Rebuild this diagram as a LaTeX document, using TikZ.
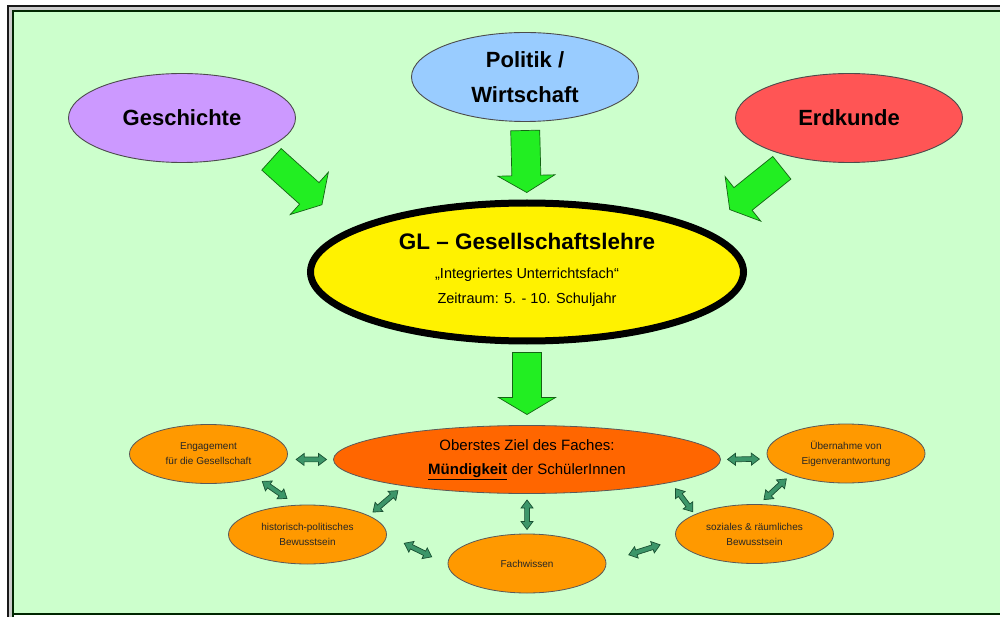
\documentclass[tikz,border=0pt]{standalone}
\usepackage{fontspec}
\setmainfont{Liberation Sans}
\usetikzlibrary{calc,shapes.geometric}

\definecolor{bggreen}{RGB}{204,255,204}
\definecolor{histviolet}{RGB}{204,153,255}
\definecolor{polblue}{RGB}{153,204,255}
\definecolor{erdred}{RGB}{255,85,85}
\definecolor{goalorange}{RGB}{255,102,0}
\definecolor{aimorange}{RGB}{255,153,0}
\definecolor{flowgreen}{RGB}{34,238,34}
\definecolor{flowline}{RGB}{20,100,20}
\definecolor{linkgreen}{RGB}{60,150,105}
\definecolor{linkline}{RGB}{25,80,50}

\tikzset{
  subject/.style={ellipse,draw=black!70,line width=0.9pt,inner sep=0pt,outer sep=0pt,
    minimum width=227pt,minimum height=89pt,align=center,
    font=\fontsize{22}{35}\selectfont\bfseries},
  core/.style={ellipse,draw=black,line width=7pt,fill=yellow,inner sep=0pt,outer sep=0pt,
    minimum width=433pt,minimum height=138pt,align=center,
    font=\fontsize{14.5}{24.5}\selectfont},
  goal/.style={ellipse,draw=black!65,line width=0.8pt,fill=goalorange,inner sep=0pt,outer sep=0pt,
    minimum width=387pt,minimum height=68pt,align=center,
    font=\fontsize{15}{24}\selectfont},
  aim/.style={ellipse,draw=black!65,line width=0.8pt,fill=aimorange,inner sep=0pt,outer sep=0pt,
    minimum width=158pt,minimum height=59pt,align=center,text=black!85,
    font=\fontsize{10}{15}\selectfont},
  pics/dblarr/.style={code={%
    \filldraw[draw=linkline,fill=linkgreen,line width=0.7pt]
      (0pt,0pt) -- (8pt,6pt) -- (8pt,2.4pt) -- ({#1-8pt},2.4pt) -- ({#1-8pt},6pt)
      -- (#1,0pt) -- ({#1-8pt},-6pt) -- ({#1-8pt},-2.4pt) -- (8pt,-2.4pt)
      -- (8pt,-6pt) -- cycle;}},
  pics/flowarr/.style={code={%
    \filldraw[draw=flowline,fill=flowgreen,line width=0.7pt]
      (0pt,-14.5pt) -- ({#1-17pt},-14.5pt) -- ({#1-17pt},-28.5pt) -- (#1,0pt)
      -- ({#1-17pt},28.5pt) -- ({#1-17pt},14.5pt) -- (0pt,14.5pt) -- cycle;}}
}

% arrow from node #1 to node #2, kept #3 / #4 away from them
\newcommand\dbllink[4]{%
  \path let \p1=($(#1)!#3!(#2)$), \p2=($(#2)!#4!(#1)$),
    \n1={atan2(\y2-\y1,\x2-\x1)}, \n2={veclen(\x2-\x1,\y2-\y1)}
    in (\p1) pic[rotate=\n1] {dblarr=\n2};}
\newcommand\flowlink[4]{%
  \path let \p1=($(#1)!#3!(#2)$), \p2=($(#2)!#4!(#1)$),
    \n1={atan2(\y2-\y1,\x2-\x1)}, \n2={veclen(\x2-\x1,\y2-\y1)}
    in (\p1) pic[rotate=\n1] {flowarr=\n2};}

\begin{document}
\begin{tikzpicture}[x=1pt,y=-1pt]
\useasboundingbox (0,0) rectangle (1000,617);

% frame and background
\fill[white] (0,0) rectangle (1000,617);
\fill[gray!40] (8,6) rectangle (13,617);
\fill[gray!40] (8,6) rectangle (1000,11);
\fill[bggreen] (13,11) rectangle (1000,614);
\draw[black!90,line width=2pt] (8,617) -- (8,6) -- (1000,6);
\draw[black!75!green!60!black,line width=2pt] (13,617) -- (13,11) -- (1000,11);
\draw[black!75!green!60!black,line width=2pt] (13,614) -- (1000,614);

% subjects
\node[subject,fill=histviolet] (gesch) at (182,118) {Geschichte};
\node[subject,fill=polblue] (pw) at (525,77) {Politik /\\Wirtschaft};
\node[subject,fill=erdred] (erd) at (849,118) {Erdkunde};

\node[core] (gl) at (527,272)
  {{\fontsize{22.5}{27}\selectfont\bfseries GL – Gesellschaftslehre}\\[5pt]
   „Integriertes Unterrichtsfach“\\ Zeitraum: 5. - 10. Schuljahr\\[-17pt]};

\node[goal] (ziel) at (527,459.5)
  {Oberstes Ziel des Faches:\\\underline{\textbf{Mündigkeit}} der SchülerInnen};

\node[aim] (eng) at (208.5,454) {Engagement\\für die Gesellschaft};
\node[aim] (hist) at (307.5,534.5) {historisch-politisches\\Bewusstsein};
\node[aim] (fach) at (527,563.5) {Fachwissen};
\node[aim] (soz) at (754.5,534) {soziales \& räumliches\\Bewusstsein};
\node[aim] (ueb) at (846,453.5) {Übernahme von\\Eigenverantwortung};

% green arrows into and out of GL
\flowlink{gesch.-22}{gl.167.7}{14pt}{40pt}
\flowlink{pw.south}{gl.north}{9pt}{10.5pt}
\flowlink{erd.-144.8}{gl.13.7}{17pt}{35pt}
\flowlink{gl.south}{ziel.north}{11.5pt}{11pt}

% links between the aims
\foreach \src/\dst/\gs/\gd in {eng.-4/ziel.west/10pt/7pt,
    eng.-26.6/hist.110.2/7pt/12pt, ziel.-168.8/hist.17.3/7.6pt/5.7pt,
    hist.east/fach.181.7/19.8pt/18.2pt, ziel.south/fach.north/6.5pt/4.5pt,
    fach.1.3/soz.184.2/24pt/17.6pt, ziel.-9.85/soz.162.3/8pt/3.6pt,
    soz.82.9/ueb.-159.8/7.2pt/6.2pt, ziel.east/ueb.184/7pt/9pt}
  {\dbllink{\src}{\dst}{\gs}{\gd}}

\end{tikzpicture}
\end{document}
